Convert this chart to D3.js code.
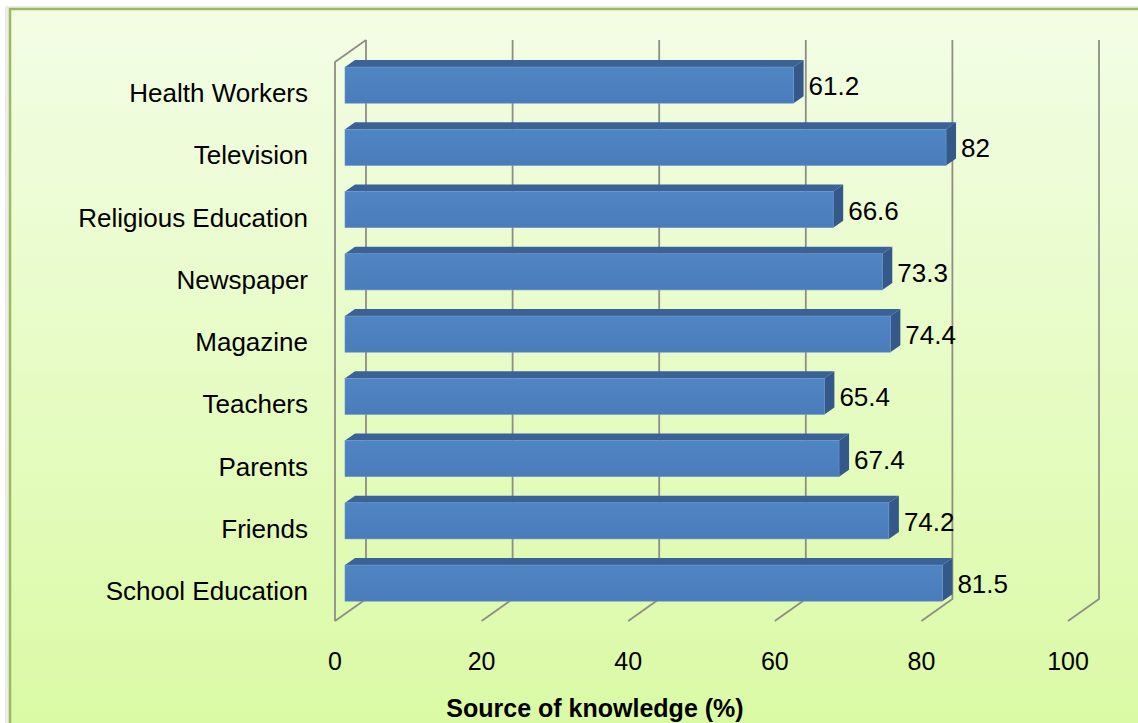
<!DOCTYPE html>
<html>
<head>
<meta charset="utf-8">
<script src="https://cdn.jsdelivr.net/npm/d3@7"></script>
<style>
  body { margin: 0; background: #fff; }
  svg { display: block; }
</style>
</head>
<body>
<div id="chart"></div>
<script>
// data, top row first
var categories = ["Health Workers", "Television", "Religious Education", "Newspaper",
                  "Magazine", "Teachers", "Parents", "Friends", "School Education"];
var values = [61.2, 82, 66.6, 73.3, 74.4, 65.4, 67.4, 74.2, 81.5];
var ticks = [0, 20, 40, 60, 80, 100];
var axisTitle = "Source of knowledge (%)";

var W = 1138, H = 723;
var font = "'Liberation Sans', Arial, sans-serif";

var svg = d3.select("#chart")
        .append("svg")
        .attr("width", W)
        .attr("height", H);

var defs = svg.append("defs");
var bg = defs.append("linearGradient")
        .attr("id", "bg")
        .attr("x1", 0).attr("y1", 0).attr("x2", 0).attr("y2", 1);
bg.append("stop").attr("offset", "0%").attr("stop-color", "#f3fde6");
bg.append("stop").attr("offset", "100%").attr("stop-color", "#dafaa4");

var face = defs.append("linearGradient")
        .attr("id", "face")
        .attr("x1", 0).attr("y1", 0).attr("x2", 0).attr("y2", 1);
face.append("stop").attr("offset", "0%").attr("stop-color", "#5085c4");
face.append("stop").attr("offset", "100%").attr("stop-color", "#4a7cba");

// chart area
svg.append("rect")
        .attr("x", 5).attr("y", 6)
        .attr("width", W).attr("height", H)
        .attr("fill", "#ececec");
svg.append("rect")
        .attr("x", 10).attr("y", 9)
        .attr("width", W).attr("height", H)
        .attr("fill", "url(#bg)")
        .attr("stroke", "#9bbb59")
        .attr("stroke-width", 2.5);

// scales: back wall, front floor edge, bar front faces
var xBack = d3.scaleLinear().domain([0, 100]).range([366, 1099]);
var xFront = d3.scaleLinear().domain([0, 100]).range([335, 1068]);
var xBar = d3.scaleLinear().domain([0, 100]).range([345, 1078]);
var y = d3.scaleBand()
        .domain(categories)
        .range([54, 54 + 9 * 62.25])
        .paddingInner(0.42)
        .paddingOuter(0.21);

var wallTop = 40, wallBottom = 599, floorFront = 621;
var depthX = 10, depthY = -7;

// gridlines
var grid = svg.append("g")
        .attr("stroke", "#8e8e84")
        .attr("stroke-width", 1.8)
        .attr("fill", "none");

grid.selectAll("path.v")
        .data(ticks)
        .enter()
        .append("path")
        .attr("d", function (d) {
            return "M" + xBack(d) + "," + wallTop + "L" + xBack(d) + "," + wallBottom +
                   "L" + xFront(d) + "," + floorFront;
        });

// left side wall
grid.append("path")
        .attr("d", "M" + xBack(0) + "," + wallTop + "L" + xFront(0) + "," + (wallTop + 22) +
                   "L" + xFront(0) + "," + floorFront);

// bars
var bars = svg.selectAll("g.bar")
        .data(categories)
        .enter()
        .append("g");

var bw = y.bandwidth();

bars.append("path")
        .attr("fill", "#3b6296")
        .attr("d", function (d, i) {
            var x0 = xBar(0), x1 = xBar(values[i]), t = y(d);
            return "M" + x0 + "," + t + "L" + (x0 + depthX) + "," + (t + depthY) +
                   "L" + (x1 + depthX) + "," + (t + depthY) + "L" + x1 + "," + t + "Z";
        });

bars.append("path")
        .attr("fill", "#34588a")
        .attr("d", function (d, i) {
            var x1 = xBar(values[i]), t = y(d);
            return "M" + x1 + "," + t + "L" + (x1 + depthX) + "," + (t + depthY) +
                   "L" + (x1 + depthX) + "," + (t + bw + depthY) + "L" + x1 + "," + (t + bw) + "Z";
        });

bars.append("rect")
        .attr("x", xBar(0))
        .attr("y", function (d) { return y(d); })
        .attr("width", function (d, i) { return xBar(values[i]) - xBar(0); })
        .attr("height", bw)
        .attr("fill", "url(#face)")
        .attr("stroke", "#6a94cc")
        .attr("stroke-width", 0.6);

// value labels
bars.append("text")
        .attr("x", function (d, i) { return xBar(values[i]) + depthX + 5; })
        .attr("y", function (d) { return y(d) + bw / 2 + 10; })
        .attr("font-family", font)
        .attr("font-size", "26px")
        .attr("fill", "#000")
        .text(function (d, i) { return values[i]; });

// category labels
svg.selectAll("text.cat")
        .data(categories)
        .enter()
        .append("text")
        .attr("x", 308)
        .attr("y", function (d) { return y(d) + bw / 2 + 17; })
        .attr("text-anchor", "end")
        .attr("font-family", font)
        .attr("font-size", "26px")
        .attr("fill", "#000")
        .text(function (d) { return d; });

// tick labels
svg.selectAll("text.tick")
        .data(ticks)
        .enter()
        .append("text")
        .attr("x", function (d) { return xFront(d); })
        .attr("y", 670)
        .attr("text-anchor", "middle")
        .attr("font-family", font)
        .attr("font-size", "25px")
        .attr("fill", "#000")
        .text(function (d) { return d; });

svg.append("text")
        .attr("x", 595)
        .attr("y", 717)
        .attr("text-anchor", "middle")
        .attr("font-family", font)
        .attr("font-size", "25px")
        .attr("font-weight", "bold")
        .attr("fill", "#000")
        .text(axisTitle);
</script>
</body>
</html>
